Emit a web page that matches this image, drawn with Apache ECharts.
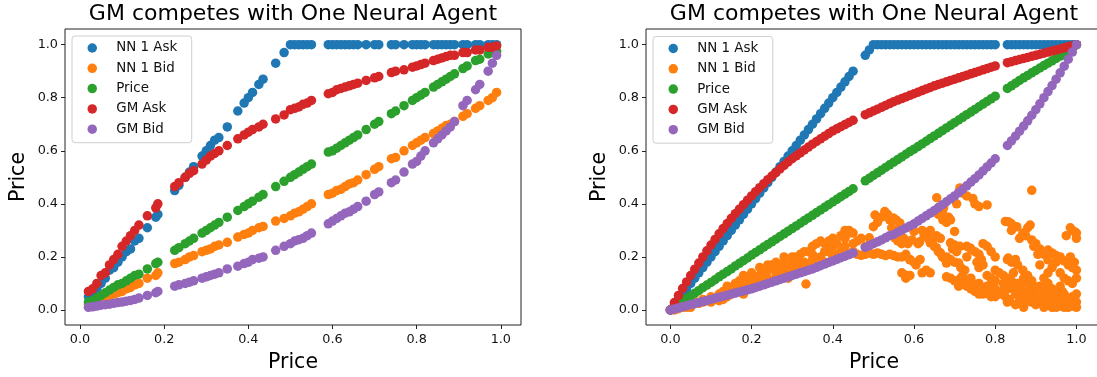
<!DOCTYPE html>
<html>
<head>
<meta charset="utf-8">
<script src="https://cdn.jsdelivr.net/npm/echarts@6/dist/echarts.min.js"></script>
<style>
  html, body { margin: 0; padding: 0; background: #fff; }
  #chart { width: 1097px; height: 377px; }
</style>
</head>
<body>
<div id="chart"></div>
<script>
// ---- Left panel: sparse market rounds ----
const LX = [0.02,0.03,0.04,0.05,0.06,0.07,0.08,0.09,0.10,0.11,0.12,0.13,0.14,0.16,0.18,0.185,
  0.225,0.235,0.25,0.26,0.27,0.29,0.30,0.31,0.32,0.33,0.35,0.375,0.39,0.40,0.41,0.425,0.435,0.465,0.485,
  0.50,0.51,0.52,0.53,0.54,0.55,
  0.59,0.60,0.61,0.62,0.63,0.64,0.65,0.66,0.68,0.70,0.71,0.74,0.75,0.77,0.79,0.80,0.81,0.82,0.84,0.85,0.86,0.87,0.88,0.89,0.91,0.92,0.94,0.95,0.97,0.98,0.99];

const L_NN_ASK = [0.05,0.06,0.08,0.10,0.12,0.15,0.16,0.18,0.20,0.22,0.23,0.26,0.27,0.31,0.35,0.36,
  0.45,0.47,0.50,0.52,0.54,0.58,0.60,0.62,0.64,0.65,0.69,0.75,0.78,0.80,0.82,0.85,0.87,0.93,0.97,
  1.0,1.0,1.0,1.0,1.0,1.0,
  1.0,1.0,1.0,1.0,1.0,1.0,1.0,1.0,1.0,1.0,1.0,1.0,1.0,1.0,1.0,1.0,1.0,1.0,1.0,1.0,1.0,1.0,1.0,1.0,1.0,1.0,1.0,1.0,1.0,1.0,1.0];

const L_NN_BID = [0.02,0.025,0.03,0.04,0.045,0.05,0.06,0.065,0.07,0.08,0.085,0.095,0.10,0.12,0.13,0.14,
  0.175,0.18,0.19,0.20,0.205,0.22,0.225,0.23,0.24,0.245,0.255,0.275,0.285,0.29,0.30,0.31,0.315,0.335,0.345,
  0.355,0.365,0.37,0.38,0.39,0.40,
  0.435,0.44,0.45,0.455,0.465,0.475,0.48,0.49,0.51,0.53,0.54,0.57,0.575,0.60,0.62,0.63,0.64,0.65,0.665,0.675,0.685,0.695,0.70,0.71,0.73,0.74,0.76,0.77,0.79,0.80,0.82];

const L_PRICE = [0.03,0.035,0.045,0.055,0.065,0.075,0.085,0.095,0.10,0.11,0.12,0.13,0.135,0.155,0.175,0.18,
  0.225,0.235,0.25,0.26,0.27,0.29,0.30,0.31,0.32,0.33,0.35,0.375,0.39,0.40,0.41,0.425,0.435,0.465,0.485,
  0.50,0.51,0.52,0.53,0.54,0.55,
  0.595,0.60,0.61,0.62,0.63,0.64,0.65,0.66,0.68,0.70,0.71,0.74,0.75,0.77,0.79,0.80,0.81,0.82,0.84,0.85,0.86,0.87,0.88,0.89,0.91,0.92,0.94,0.945,0.965,0.97,0.975];

const L_GM_ASK = [0.07,0.08,0.10,0.13,0.14,0.17,0.19,0.21,0.24,0.26,0.28,0.30,0.32,0.355,0.385,0.40,
  0.465,0.48,0.50,0.515,0.525,0.55,0.565,0.58,0.59,0.60,0.62,0.645,0.66,0.67,0.68,0.69,0.70,0.72,0.735,
  0.755,0.76,0.765,0.775,0.78,0.79,
  0.815,0.82,0.83,0.835,0.84,0.845,0.85,0.855,0.865,0.875,0.88,0.895,0.90,0.905,0.915,0.92,0.925,0.93,0.94,0.945,0.95,0.955,0.96,0.96,0.97,0.97,0.98,0.98,0.99,0.99,0.995];

const L_GM_BID = [0.01,0.012,0.015,0.018,0.02,0.022,0.025,0.028,0.03,0.033,0.036,0.04,0.045,0.055,0.065,0.07,
  0.09,0.095,0.10,0.105,0.11,0.12,0.125,0.13,0.135,0.14,0.155,0.165,0.175,0.18,0.19,0.195,0.20,0.225,0.24,
  0.25,0.26,0.265,0.27,0.28,0.29,
  0.325,0.335,0.345,0.355,0.365,0.37,0.38,0.39,0.41,0.435,0.445,0.48,0.49,0.52,0.55,0.56,0.58,0.60,0.63,0.645,0.66,0.675,0.69,0.71,0.77,0.79,0.83,0.85,0.90,0.93,0.96];

// ---- Right panel: dense market rounds ----
const RX = [0.00,0.01,0.02,0.03,0.04,0.05,0.06,0.07,0.08,0.09,0.10,0.11,0.12,0.13,0.14,0.15,0.16,0.17,0.18,0.19,
  0.20,0.21,0.22,0.23,0.24,0.25,0.26,0.27,0.28,0.29,0.30,0.31,0.32,0.33,0.34,0.35,0.36,0.37,0.38,0.39,
  0.40,0.41,0.42,0.43,0.44,0.45,
  0.48,0.49,0.50,0.51,0.52,0.53,0.54,0.55,0.56,0.57,0.58,0.59,0.60,0.61,0.62,0.63,0.64,0.65,0.66,0.67,
  0.68,0.69,0.70,0.71,0.72,0.73,0.74,0.75,0.76,0.77,0.78,0.79,0.80,
  0.83,0.84,0.85,0.86,0.87,0.88,0.89,0.90,0.91,0.92,0.93,0.94,0.95,0.96,0.97,0.98,0.99,1.00];

const R_NN_ASK = [0.00,0.02,0.04,0.06,0.08,0.10,0.12,0.14,0.16,0.18,0.20,0.22,0.24,0.26,0.28,0.30,0.32,0.34,0.36,0.38,
  0.40,0.42,0.44,0.46,0.48,0.50,0.52,0.54,0.56,0.58,0.60,0.62,0.64,0.66,0.68,0.70,0.72,0.74,0.76,0.78,
  0.80,0.82,0.84,0.86,0.88,0.90,
  0.96,0.98,1.0,1.0,1.0,1.0,1.0,1.0,1.0,1.0,1.0,1.0,1.0,1.0,1.0,1.0,1.0,1.0,1.0,1.0,
  1.0,1.0,1.0,1.0,1.0,1.0,1.0,1.0,1.0,1.0,1.0,1.0,1.0,
  1.0,1.0,1.0,1.0,1.0,1.0,1.0,1.0,1.0,1.0,1.0,1.0,1.0,1.0,1.0,1.0,1.0,1.0];

const R_PRICE = [0.000,0.012,0.022,0.032,0.043,0.053,0.063,0.073,0.084,0.094,0.104,0.114,0.125,0.135,0.145,0.155,0.166,0.176,0.186,0.196,
  0.207,0.217,0.227,0.237,0.247,0.257,0.267,0.277,0.287,0.297,0.307,0.317,0.327,0.337,0.347,0.357,0.367,0.377,0.387,0.397,
  0.407,0.417,0.427,0.437,0.447,0.457,
  0.487,0.497,0.507,0.517,0.527,0.537,0.547,0.557,0.567,0.577,0.587,0.597,0.606,0.616,0.626,0.636,0.646,0.656,0.666,0.676,
  0.686,0.696,0.706,0.716,0.726,0.736,0.746,0.756,0.766,0.776,0.786,0.796,0.806,
  0.835,0.845,0.855,0.865,0.875,0.884,0.894,0.903,0.912,0.921,0.930,0.939,0.948,0.957,0.966,0.976,0.988,1.000];

const R_GM_ASK = [0.000,0.028,0.055,0.081,0.106,0.130,0.154,0.177,0.200,0.223,0.245,0.266,0.287,0.307,0.326,0.345,0.363,0.380,0.397,0.414,
  0.430,0.446,0.461,0.476,0.491,0.505,0.518,0.532,0.545,0.558,0.570,0.581,0.592,0.603,0.614,0.625,0.635,0.645,0.655,0.665,
  0.675,0.683,0.691,0.699,0.707,0.715,
  0.736,0.743,0.750,0.757,0.764,0.771,0.778,0.785,0.791,0.797,0.803,0.809,0.815,0.821,0.827,0.833,0.839,0.845,0.850,0.855,
  0.860,0.865,0.870,0.875,0.880,0.885,0.890,0.895,0.900,0.905,0.910,0.915,0.920,
  0.932,0.936,0.940,0.944,0.948,0.952,0.956,0.960,0.964,0.968,0.972,0.976,0.980,0.984,0.988,0.992,0.996,1.000];

const R_GM_BID = [0.000,0.004,0.008,0.012,0.016,0.020,0.024,0.028,0.032,0.036,0.040,0.044,0.048,0.052,0.056,0.060,0.064,0.068,0.072,0.076,
  0.080,0.085,0.090,0.095,0.100,0.105,0.110,0.115,0.120,0.125,0.130,0.135,0.140,0.145,0.150,0.155,0.161,0.167,0.173,0.179,
  0.185,0.191,0.197,0.203,0.209,0.215,
  0.236,0.243,0.250,0.257,0.264,0.272,0.280,0.285,0.293,0.301,0.309,0.317,0.325,0.335,0.345,0.355,0.365,0.375,0.386,0.397,
  0.408,0.419,0.430,0.442,0.455,0.468,0.482,0.495,0.509,0.524,0.539,0.554,0.570,
  0.620,0.637,0.655,0.674,0.693,0.713,0.734,0.755,0.777,0.800,0.823,0.846,0.870,0.894,0.919,0.945,0.972,1.000];

// NN 1 bids are scattered, so they carry their own x values
const R_NN_BID_X = [0.00,0.01,0.02,0.03,0.04,0.05,0.06,0.07,0.08,0.09,0.10,0.11,0.12,0.12,0.13,0.14,0.14,0.15,0.16,0.16,
  0.17,0.17,0.18,0.18,0.19,0.19,0.20,0.20,0.21,0.21,0.22,0.22,0.23,0.23,0.24,0.24,0.25,0.25,0.26,0.26,
  0.27,0.27,0.28,0.28,0.29,0.29,0.30,0.30,0.31,0.31,0.32,0.32,0.33,0.334,0.34,0.34,0.35,0.35,0.36,0.36,
  0.37,0.37,0.38,0.38,0.39,0.40,0.40,0.41,0.42,0.42,0.43,0.43,0.44,0.44,0.45,0.45,
  0.46,0.47,0.48,0.49,0.50,0.51,0.52,0.53,0.54,0.55,0.56,0.57,0.58,0.59,0.46,0.47,0.48,0.49,0.50,0.504,
  0.528,0.54,0.549,0.557,0.565,0.553,0.56,0.57,0.578,0.58,0.59,0.60,0.595,0.61,0.62,0.63,0.63,0.64,0.65,0.66,
  0.67,0.68,0.64,0.664,0.671,0.68,0.705,0.69,0.70,0.713,0.68,0.69,0.70,0.71,0.68,0.69,0.70,0.72,0.73,0.74,
  0.75,0.77,0.79,0.72,0.74,0.76,0.78,0.738,0.745,0.78,0.713,0.72,0.766,0.77,0.80,0.81,0.75,0.76,0.832,0.84,
  0.853,0.832,0.84,0.868,0.886,0.89,0.89,0.90,0.91,0.92,0.93,0.868,0.88,0.656,0.673,0.60,0.614,0.70,0.825,0.83,
  0.82,0.83,0.84,0.85,0.86,0.86,0.87,0.88,0.88,0.89,0.89,0.90,0.90,0.91,0.91,0.92,0.92,0.93,0.93,0.94,
  0.94,0.95,0.95,0.96,0.96,0.97,0.97,0.98,0.98,0.99,0.99,1.00,1.00,1.00,0.85,0.87,0.83,0.81,0.80,0.79,
  0.93,0.94,0.95,0.96,0.97,0.98,0.99,1.00,0.96,0.985,0.99,1.00,0.995,
  0.05,0.08,0.10,0.13,0.15,0.18,0.20,0.22,0.24,0.26,0.28,0.30,0.32,0.33,0.35,0.38,0.39,0.40,0.41,0.43,0.44,0.45,
  0.51,0.52,0.535,0.545,0.555,0.575,0.585,0.59,0.57,
  0.605,0.615,0.625,0.635,0.645,0.655,0.665,0.675,0.62,0.64,0.65,0.66,0.67,0.685,0.69,0.655,0.665,0.695,0.705,0.715,0.725,0.73,0.74,0.755,0.76,0.73,
  0.71,0.715,0.73,0.745,0.755,0.765,0.775,0.785,0.80,0.76,0.78,0.79,0.80,0.77,0.78,0.79,0.80,0.75,0.76,0.73,
  0.815,0.825,0.835,0.845,0.855,0.865,0.875,0.885,0.895,0.905,0.82,0.83,0.845,0.855,0.86,0.875,0.88,0.895,0.905,0.84,0.85,0.87,0.89,
  0.915,0.925,0.935,0.945,0.955,0.965,0.975,0.985,0.995,0.92,0.93,0.94,0.95,0.96,0.97,0.98,0.99,1.0,0.91,0.985,0.995,0.975,1.0,0.99,0.97,0.96,0.94,0.92];

const R_NN_BID_Y = [0.00,0.00,0.005,0.01,0.01,0.02,0.03,0.025,0.04,0.035,0.05,0.04,0.06,0.035,0.07,0.05,0.09,0.06,0.10,0.07,
  0.08,0.11,0.06,0.10,0.12,0.085,0.10,0.14,0.09,0.12,0.16,0.11,0.13,0.10,0.15,0.12,0.17,0.11,0.14,0.12,
  0.16,0.13,0.20,0.15,0.17,0.12,0.18,0.14,0.16,0.20,0.15,0.21,0.18,0.098,0.22,0.16,0.19,0.24,0.17,0.25,
  0.26,0.20,0.25,0.18,0.22,0.24,0.20,0.21,0.28,0.22,0.30,0.24,0.29,0.21,0.25,0.22,
  0.21,0.206,0.21,0.215,0.21,0.215,0.21,0.205,0.21,0.205,0.20,0.20,0.21,0.19,0.26,0.27,0.24,0.272,0.314,0.358,
  0.371,0.34,0.347,0.338,0.328,0.272,0.26,0.25,0.132,0.12,0.189,0.18,0.264,0.25,0.30,0.29,0.15,0.253,0.24,0.22,
  0.20,0.177,0.30,0.366,0.34,0.33,0.40,0.253,0.245,0.24,0.20,0.19,0.18,0.177,0.125,0.12,0.11,0.10,0.09,0.08,
  0.07,0.06,0.05,0.13,0.12,0.10,0.09,0.234,0.42,0.396,0.46,0.44,0.19,0.17,0.15,0.14,0.22,0.21,0.333,0.325,
  0.314,0.196,0.18,0.29,0.32,0.451,0.264,0.25,0.23,0.21,0.189,0.15,0.13,0.423,0.385,0.296,0.257,0.296,0.334,0.19,
  0.10,0.08,0.11,0.06,0.09,0.04,0.07,0.05,0.10,0.03,0.08,0.06,0.02,0.09,0.04,0.07,0.02,0.05,0.10,0.03,
  0.08,0.06,0.01,0.04,0.09,0.02,0.06,0.04,0.01,0.05,0.02,0.03,0.06,0.01,0.02,0.01,0.03,0.06,0.08,0.10,
  0.226,0.215,0.205,0.195,0.185,0.17,0.16,0.15,0.20,0.31,0.30,0.29,0.295,
  0.01,0.03,0.03,0.04,0.08,0.13,0.12,0.13,0.17,0.18,0.18,0.20,0.18,0.22,0.21,0.22,0.26,0.27,0.25,0.27,0.30,0.29,
  0.33,0.35,0.36,0.31,0.30,0.27,0.25,0.13,0.14,
  0.17,0.19,0.28,0.27,0.26,0.235,0.215,0.195,0.14,0.14,0.37,0.36,0.37,0.35,0.34,0.28,0.27,0.23,0.22,0.16,0.15,0.24,0.23,0.18,0.16,0.20,
  0.09,0.12,0.11,0.10,0.09,0.08,0.07,0.06,0.05,0.06,0.13,0.12,0.11,0.25,0.24,0.22,0.20,0.40,0.39,0.43,
  0.07,0.05,0.04,0.08,0.10,0.05,0.03,0.06,0.09,0.04,0.13,0.12,0.14,0.17,0.27,0.28,0.31,0.24,0.21,0.30,0.19,0.12,0.11,
  0.05,0.09,0.03,0.06,0.03,0.07,0.04,0.03,0.04,0.12,0.14,0.16,0.18,0.14,0.12,0.11,0.10,0.12,0.17,0.20,0.18,0.28,0.27,0.015,0.01,0.015,0.01,0.01];

const TICKS = [0, 0.2, 0.4, 0.6, 0.8, 1.0];
const NAMES = ['NN 1 Ask', 'NN 1 Bid', 'Price', 'GM Ask', 'GM Bid'];
const COLORS = ['#1f77b4', '#ff7f0e', '#2ca02c', '#d62728', '#9467bd'];
const TITLE = 'GM competes with One Neural Agent';
const AXIS_NAME = 'Price';

const FONT = '"DejaVu Sans", "Liberation Sans", sans-serif';
const zip = (xs, ys) => xs.map((x, i) => [x, ys[i]]);

function makeAxis(kind, idx, min, max) {
  return {
    type: 'value', gridIndex: idx, min: min, max: max,
    position: kind === 'x' ? 'bottom' : 'left',
    name: AXIS_NAME, nameLocation: 'middle',
    nameGap: kind === 'x' ? 27 : 36,
    nameTextStyle: { fontFamily: FONT, fontSize: 20.5, color: '#000' },
    axisLine: { show: false, onZero: false },
    axisTick: { show: true, inside: false, length: 4, customValues: TICKS,
      lineStyle: { color: '#222', width: 1 } },
    axisLabel: { show: true, customValues: TICKS, margin: kind === 'x' ? 8 : 7,
      fontFamily: FONT, fontSize: 12.8, color: '#111',
      formatter: v => Number(v).toFixed(1) },
    splitLine: { show: false }
  };
}

function makeLegend(left, top) {
  return {
    data: NAMES, orient: 'vertical', left: left, top: top,
    icon: 'circle', itemWidth: 30, itemHeight: 9.5, itemGap: 4.3,
    padding: [4, 14.5, 5.5, 15.5],
    backgroundColor: 'rgba(255,255,255,0.8)',
    borderColor: '#cfcfcf', borderWidth: 1, borderRadius: 3,
    selectedMode: false,
    textStyle: { fontFamily: FONT, fontSize: 13.4, lineHeight: 16, color: '#111',
      padding: [0, 0, 0, 4] }
  };
}

function scatter(name, idx, data, color) {
  return {
    type: 'scatter', name: name, xAxisIndex: idx, yAxisIndex: idx,
    data: data, symbol: 'circle', symbolSize: 9.5,
    itemStyle: { color: color, opacity: 1 },
    emphasis: { disabled: true }
  };
}

const leftSeries = [L_NN_ASK, L_NN_BID, L_PRICE, L_GM_ASK, L_GM_BID]
  .map((ys, i) => scatter(NAMES[i], 0, zip(LX, ys), COLORS[i]));
const rightSeries = [
  zip(RX, R_NN_ASK), zip(R_NN_BID_X, R_NN_BID_Y), zip(RX, R_PRICE), zip(RX, R_GM_ASK), zip(RX, R_GM_BID)
].map((d, i) => scatter(NAMES[i], 1, d, COLORS[i]));

const titleText = (cx) => ({
  type: 'text', x: cx, y: 14,
  style: { text: TITLE, font: '22px ' + FONT, fill: '#000',
    align: 'center', verticalAlign: 'middle', textAlign: 'center', textVerticalAlign: 'middle' }
});

const chart = echarts.init(document.getElementById('chart'), null, { renderer: 'canvas' });
chart.setOption({
  animation: false,
  backgroundColor: '#fff',
  graphic: [ titleText(293), titleText(874) ],
  grid: [
    { left: 65, top: 29, width: 456, height: 296, show: true, borderColor: '#222', borderWidth: 1,
      backgroundColor: 'transparent', containLabel: false, outerBoundsMode: 'none' },
    { left: 646, top: 29, width: 456, height: 296, show: true, borderColor: '#222', borderWidth: 1,
      backgroundColor: 'transparent', containLabel: false, outerBoundsMode: 'none' }
  ],
  xAxis: [ makeAxis('x', 0, -0.0357, 1.048), makeAxis('x', 1, -0.060, 1.063) ],
  yAxis: [ makeAxis('y', 0, -0.0565, 1.059), makeAxis('y', 1, -0.0565, 1.059) ],
  legend: [ makeLegend(72, 36), makeLegend(653, 36.5) ],
  series: leftSeries.concat(rightSeries)
});
</script>
</body>
</html>
